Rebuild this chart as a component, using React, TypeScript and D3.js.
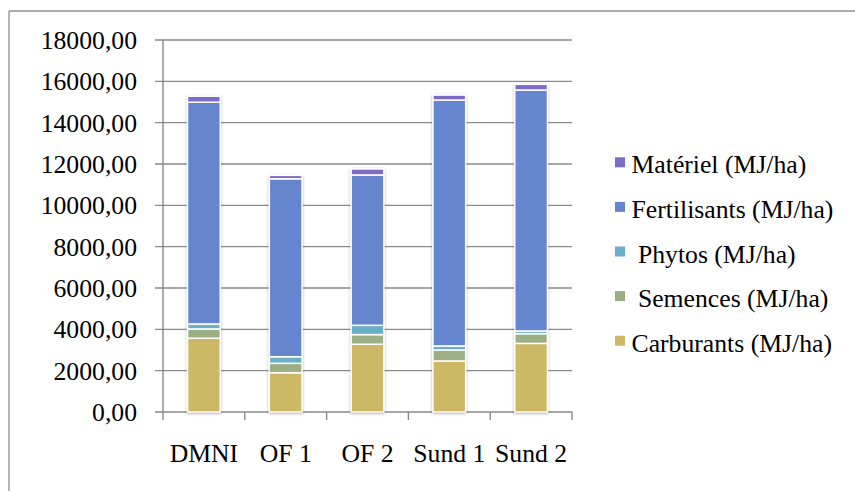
import React from "react";
import * as d3 from "d3";

const categories = ["DMNI", "OF 1", "OF 2", "Sund 1", "Sund 2"];
const seriesNames = [
  "Carburants (MJ/ha)",
  "Semences (MJ/ha)",
  "Phytos (MJ/ha)",
  "Fertilisants (MJ/ha)",
  "Matériel (MJ/ha)",
];
const carburants = [3570, 1900, 3280, 2470, 3320];
const semences = [450, 455, 465, 530, 470];
const phytos = [240, 320, 450, 195, 130];
const fertilisants = [10730, 8610, 7275, 11900, 11660];
const materiel = [290, 165, 290, 240, 275];
const yTicks = [0, 2000, 4000, 6000, 8000, 10000, 12000, 14000, 16000, 18000];

const seriesValues = [carburants, semences, phytos, fertilisants, materiel];
const colors = ["#CDB866", "#9CAF84", "#6BAFC8", "#6585CF", "#7D6BC9"];
// legend lists series top-down, with the original label spacing
const legendOrder = [4, 3, 2, 1, 0];
const legendLabels = [
  "Matériel (MJ/ha)",
  "Fertilisants (MJ/ha)",
  "\u00a0Phytos (MJ/ha)",
  "\u00a0Semences (MJ/ha)",
  "Carburants (MJ/ha)",
];

const W = 855;
const H = 491;
const plot = { left: 163, right: 572, top: 40, bottom: 412 };
const serif = "Liberation Serif";
const textStyle = { fontFamily: serif, fontSize: "25.7px" };
const gridColor = "#8a8a8a";

export default function App() {
  const x = d3
    .scaleBand<string>()
    .domain(categories)
    .range([plot.left, plot.right])
    .paddingInner(0.6)
    .paddingOuter(0.3);
  const band = d3.scaleBand<string>().domain(categories).range([plot.left, plot.right]);
  const y = d3.scaleLinear().domain([0, 18000]).range([plot.bottom, plot.top]);

  const rows = categories.map((c, i) => {
    const r: Record<string, number | string> = { cat: c };
    seriesNames.forEach((s, k) => (r[s] = seriesValues[k][i]));
    return r;
  });
  const stacked = d3.stack<Record<string, number | string>>().keys(seriesNames)(rows as any);

  const fmt = (v: number) => d3.format(".2f")(v).replace(".", ",");

  return (
    <svg
      width={W}
      height={H}
      style={{ position: "fixed", left: 0, top: 0, background: "#fff" }}
    >
      <defs>
        <filter id="glow" x="-30%" y="-5%" width="160%" height="110%">
          <feDropShadow dx="0" dy="1" stdDeviation="1.6" floodColor="#000" floodOpacity="0.3" />
        </filter>
      </defs>
      {/* frame */}
      <line x1={9} x2={W} y1={11} y2={11} stroke="#8f8f8f" strokeWidth={1.3} />
      <line x1={9} x2={9} y1={11} y2={H} stroke="#8f8f8f" strokeWidth={1.3} />

      {/* gridlines and y ticks */}
      {yTicks.map((t) => (
        <g key={t}>
          <line
            x1={plot.left - 8}
            x2={plot.right}
            y1={y(t)}
            y2={y(t)}
            stroke={gridColor}
            strokeWidth={1.4}
          />
          <text x={137} y={y(t) + 9} textAnchor="end" style={textStyle} fill="#000">
            {fmt(t)}
          </text>
        </g>
      ))}
      <line x1={plot.left} x2={plot.left} y1={plot.top} y2={plot.bottom} stroke={gridColor} strokeWidth={1.4} />

      {/* x ticks */}
      {categories.map((c) => (
        <line
          key={c}
          x1={(band(c) as number) + band.bandwidth()}
          x2={(band(c) as number) + band.bandwidth()}
          y1={plot.bottom}
          y2={plot.bottom + 8}
          stroke={gridColor}
          strokeWidth={1.4}
        />
      ))}
      <line x1={plot.left} x2={plot.left} y1={plot.bottom} y2={plot.bottom + 8} stroke={gridColor} strokeWidth={1.4} />

      {/* stacked bars */}
      {categories.map((c, i) => (
        <g key={c} filter="url(#glow)">
          {stacked.map((layer, k) => {
            const [y0, y1] = layer[i];
            return (
              <rect
                key={k}
                x={x(c)}
                width={x.bandwidth()}
                y={y(y1)}
                height={y(y0) - y(y1)}
                fill={colors[k]}
                stroke="#fff"
                strokeWidth={1.5}
              />
            );
          })}
        </g>
      ))}

      {/* category labels */}
      {categories.map((c) => (
        <text
          key={c}
          x={(band(c) as number) + band.bandwidth() / 2}
          y={462}
          textAnchor="middle"
          style={textStyle}
          fill="#000"
        >
          {c}
        </text>
      ))}

      {/* legend */}
      {legendOrder.map((k, j) => {
        const base = 173.3 + j * 44.6;
        return (
          <g key={k}>
            <rect x={615} y={base - 16} width={10} height={10} fill={colors[k]} />
            <text x={631.5} y={base} style={textStyle} fill="#000">
              {legendLabels[j]}
            </text>
          </g>
        );
      })}
    </svg>
  );
}
